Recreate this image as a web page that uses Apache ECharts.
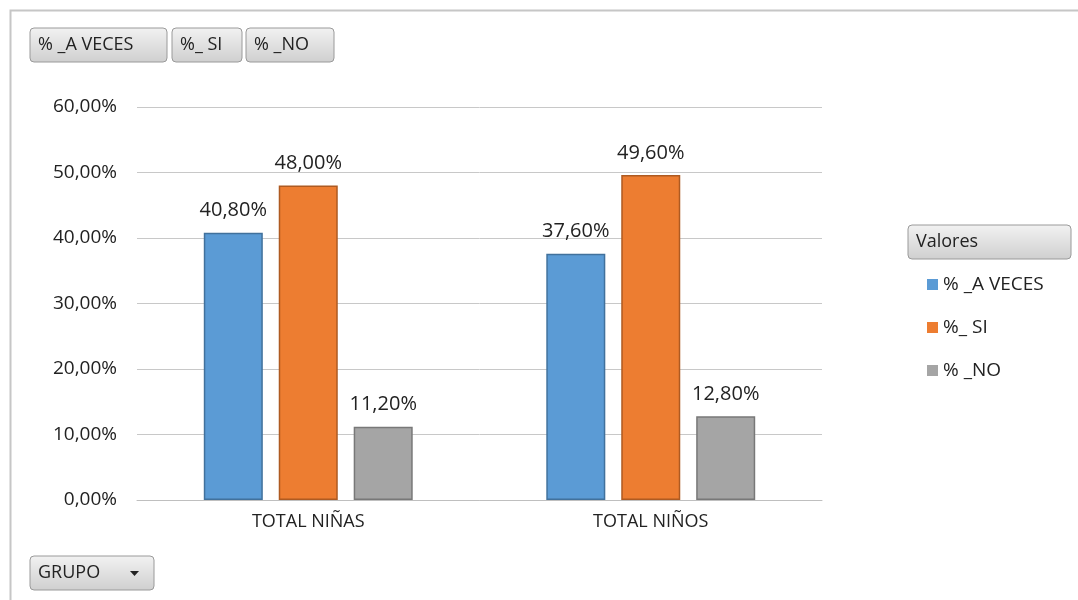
<!DOCTYPE html>
<html>
<head>
<meta charset="utf-8">
<script src="https://cdn.jsdelivr.net/npm/echarts@6/dist/echarts.min.js"></script>
<style>
html, body { margin: 0; padding: 0; background: #fff; }
#chart { width: 1078px; height: 600px; }
</style>
</head>
<body>
<div id="chart"></div>
<script>
//datos del grafico
var categories = ['TOTAL NIÑAS', 'TOTAL NIÑOS'];
var seriesNames = ['% _A VECES', '%_ SI', '% _NO'];
var aVeces = [40.8, 37.6];
var si = [48.0, 49.6];
var no = [11.2, 12.8];
var yTicks = [0, 10, 20, 30, 40, 50, 60];

var colors = ['#5b9bd5', '#ed7d31', '#a5a5a5'];
var borders = ['#41719c', '#ae5a21', '#787878'];
var font = '"Open Sans", "Liberation Sans", sans-serif';

function pct(v) {
    return v.toFixed(2).replace('.', ',') + '%';
}

//boton estilo tabla dinamica
function button(x, y, w, h, label, arrow) {
    var kids = [{
        type : 'rect',
        shape : { x : 0, y : 0, width : w, height : h, r : 4 },
        style : {
            fill : new echarts.graphic.LinearGradient(0, 0, 0, 1, [
                { offset : 0, color : '#f2f2f2' },
                { offset : 1, color : '#cfcfcf' }
            ]),
            stroke : '#9a9a9a', lineWidth : 1
        }
    }, {
        type : 'text',
        style : {
            x : 8, y : h / 2, text : label, fill : '#222',
            fontSize : 18, fontFamily : font, verticalAlign : 'middle'
        }
    }];
    if (arrow) {
        kids.push({
            type : 'polygon',
            shape : { points : [[w - 24, h / 2 - 2], [w - 15, h / 2 - 2], [w - 19.5, h / 2 + 3]] },
            style : { fill : '#222' }
        });
    }
    return { type : 'group', x : x, y : y, children : kids };
}

var data = [aVeces, si, no];
var series = [];
for (var i = 0; i < seriesNames.length; i++) {
    series.push({
        name : seriesNames[i],
        type : 'bar',
        data : data[i],
        barGap : '27%',
        barCategoryGap : '39%',
        itemStyle : { color : colors[i], borderColor : borders[i], borderWidth : 1.5 },
        label : {
            show : true, position : 'top', distance : 12,
            color : '#222', fontSize : 20, fontFamily : font,
            formatter : function (p) { return pct(p.value); }
        }
    });
}

var chart = echarts.init(document.getElementById('chart'));
chart.setOption({
    animation : false,
    color : colors,
    grid : { left : 137, right : 256, top : 107, bottom : 100 },
    xAxis : {
        type : 'category',
        data : categories,
        axisLine : { lineStyle : { color : '#bfbfbf' } },
        axisTick : { show : false },
        axisLabel : { color : '#222', fontSize : 18, fontFamily : font, margin : 13 }
    },
    yAxis : {
        type : 'value',
        min : yTicks[0],
        max : yTicks[yTicks.length - 1],
        interval : 10,
        axisLine : { show : false },
        axisTick : { show : false },
        splitLine : { lineStyle : { color : '#c8c8c8' } },
        axisLabel : {
            color : '#222', fontSize : 19, fontFamily : font, margin : 20,
            formatter : function (v) { return pct(v); }
        }
    },
    legend : {
        orient : 'vertical',
        left : 922, top : 270,
        itemWidth : 11, itemHeight : 11, itemGap : 24,
        icon : 'rect',
        itemStyle : { borderWidth : 0 },
        textStyle : { color : '#222', fontSize : 19, fontFamily : font },
        data : seriesNames
    },
    graphic : [
        {
            type : 'rect',
            shape : { x : 10.5, y : 10.5, width : 1080, height : 600 },
            style : { fill : 'none', stroke : '#c6c6c6', lineWidth : 2 }
        },
        button(30, 28, 137, 34, seriesNames[0]),
        button(172, 28, 70, 34, seriesNames[1]),
        button(246, 28, 88, 34, seriesNames[2]),
        button(908, 225, 163, 34, 'Valores'),
        button(30, 556, 124, 34, 'GRUPO', true)
    ],
    series : series
});
</script>
</body>
</html>
